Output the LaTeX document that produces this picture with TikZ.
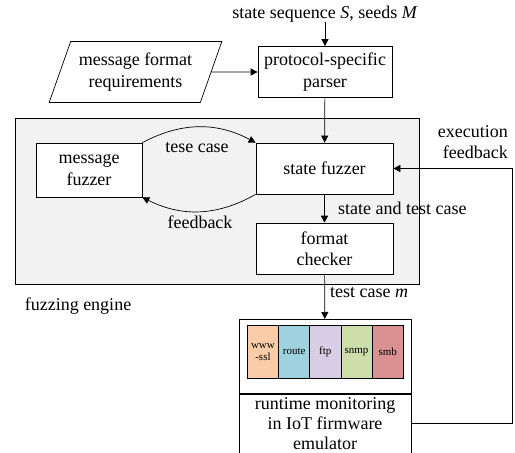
\documentclass[tikz,border=0pt]{standalone}
\usepackage{fontspec}
\setmainfont{Liberation Serif}
\usetikzlibrary{shapes.geometric, arrows.meta, positioning}
\definecolor{enginegray}{RGB}{242,242,242}
\definecolor{sslcol}{RGB}{250,205,168}
\definecolor{routecol}{RGB}{158,210,222}
\definecolor{ftpcol}{RGB}{215,205,228}
\definecolor{snmpcol}{RGB}{205,222,170}
\definecolor{smbcol}{RGB}{218,145,145}

\begin{document}
\begin{tikzpicture}[x=1pt, y=-1pt,
                font=\fontsize{18}{21.5}\selectfont,
                box/.style={rectangle, draw=black, fill=white, line width=0.7pt,
                            align=center, inner sep=1pt},
                arr/.style={-{Triangle[length=7pt,width=7pt]}, line width=0.7pt},
                lbl/.style={inner sep=0pt, align=center},
                proto/.style={rectangle, draw=black, line width=0.7pt, inner sep=0pt,
                              minimum width=31.2pt, minimum height=53pt, align=center,
                              font=\fontsize{11}{12.5}\selectfont}
            ]
                \useasboundingbox (0,0) rectangle (515,453);

                % fuzzing engine background
                \node[draw=black, fill=enginegray, line width=0.7pt,
                      minimum width=404pt, minimum height=166pt, inner sep=0pt] (engine) at (217,201) {};

                \node[lbl] (input) at (325,14) {state sequence \textit{S}, seeds \textit{M}};
                \node[box, minimum width=134pt, minimum height=51pt] (parser) at (325,72) {protocol-specific\\parser};
                \node[trapezium, trapezium left angle=66, trapezium right angle=114,
                      trapezium stretches=true, draw=black, line width=0.7pt,
                      minimum width=173pt, minimum height=61pt, align=center] (req) at (135.5,72) {message format\\requirements};

                \node[box, minimum width=106pt, minimum height=54pt] (mfuzz) at (89,170) {message\\fuzzer};
                \node[box, minimum width=137pt, minimum height=51pt] (sfuzz) at (324.5,168.5) {state fuzzer};
                \node[box, minimum width=137pt, minimum height=51pt] (checker) at (324.5,248.5) {format\\checker};

                % emulator with its services
                \node[box, minimum width=172pt, minimum height=74pt, anchor=north] (emu) at (325,319) {};
                \node[box, minimum width=172pt, minimum height=59pt, inner ysep=0pt, anchor=north,
                      font=\fontsize{18}{20}\selectfont] (monitor) at (emu.south) {runtime monitoring\\in IoT firmware\\emulator};
                \foreach \name/\col/\txt [count=\i from 0] in {ssl/sslcol/{www\\-ssl}, route/routecol/route,
                                                               ftp/ftpcol/ftp, snmp/snmpcol/snmp, smb/smbcol/smb}
                    \node[proto, fill=\col, anchor=north west] (\name) at ({247+\i*31.2},325) {\txt};

                \node[lbl] (tese) at (197,148) {tese case};
                \node[lbl] (fb) at (200,222) {feedback};
                \node[lbl, anchor=west] (stc) at (338,208) {state and test case};
                \node[lbl, anchor=west] (tcm) at (330,293) {test case \textit{m}};
                \node[lbl] (engname) at (78,306) {fuzzing engine};
                \node[lbl, align=right, anchor=east] (execfb) at (508,142) {execution\\feedback};

                \draw[arr] (input) -- (parser);
                \draw[arr] (req) -- (parser);
                \draw[arr] (parser) -- (sfuzz);
                \draw[arr] (mfuzz.north east) to[bend left=28] (sfuzz.north west);
                \draw[arr] (sfuzz.south west) to[bend left=28] (mfuzz.south east);
                \draw[arr] (sfuzz) -- (checker);
                \draw[arr] (checker) -- (emu);
                \draw[arr] (monitor.east) -- ++(101,0) |- (sfuzz.east);
            \end{tikzpicture}
\end{document}
